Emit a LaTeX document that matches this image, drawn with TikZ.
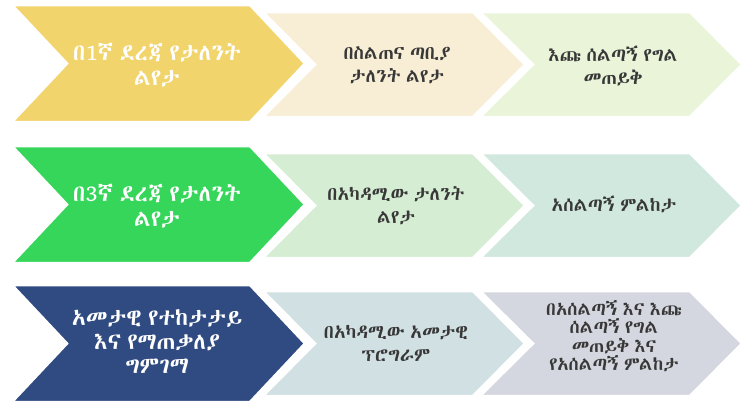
\documentclass[tikz,border=0pt]{standalone}
\usepackage{fontspec}
\IfFontExistsTF{Abyssinica SIL}{\newfontfamily\eth[WordSpace=0.65]{Abyssinica SIL}}{%
  \IfFontExistsTF{FreeSerif.otf}{\newfontfamily\eth[WordSpace=0.65]{FreeSerif.otf}}{%
    \IfFontExistsTF{FreeSerif}{\newfontfamily\eth[WordSpace=0.65]{FreeSerif}}{\newfontfamily\eth{DejaVu Sans}}}}
\definecolor{cyellow}{HTML}{F2D46C}
\definecolor{cbeige}{HTML}{F8EDD5}
\definecolor{clgreenA}{HTML}{E9F4D8}
\definecolor{cgreen}{HTML}{36D65B}
\definecolor{clgreenB}{HTML}{D5EDD3}
\definecolor{cmint}{HTML}{D1E8DF}
\definecolor{cnavy}{HTML}{2F4B82}
\definecolor{cblgray}{HTML}{D1E0E3}
\definecolor{cgray}{HTML}{D4D7DF}
\definecolor{textgray}{HTML}{383838}
\newcommand\chevshape[7]{%
  \draw[chev, fill=#1] (#2,#6) -- (#4,#6) -- (#5,{(#6+#7)/2}) -- (#4,#7) -- (#2,#7) -- (#3,{(#6+#7)/2}) -- cycle;}
\tikzset{
  chev/.style={draw=white, line width=2.5pt, line join=miter},
  bigtxt/.style={font=\eth\fontsize{23}{25.5}\selectfont, text=white, align=center, inner sep=0pt},
  smalltxt/.style={font=\eth\fontsize{19}{23}\selectfont, text=textgray, align=center, inner sep=0pt},
}
\begin{document}
\begin{tikzpicture}[x=1pt,y=-1pt]
\useasboundingbox[fill=white] (0,0) rectangle (744,407);
% row 1
\chevshape{clgreenA}{480}{533}{690}{742}{12}{117}
\chevshape{cbeige}{263}{315}{473}{525}{12}{117}
\chevshape{cyellow}{12}{67}{250}{305}{5}{122}
\node[bigtxt] (a1) at (157,65) {በ1ኛ ደረጃ የታለንት\\ልየታ};
\node[smalltxt] (b1) at (397,65) {በስልጠና ጣቢያ\\ታለንት ልየታ};
\node[smalltxt] (c1) at (613,66) {እጩ ሰልጣኝ የግል\\መጠይቅ};
% row 2
\chevshape{cmint}{480}{533}{690}{742}{153}{258}
\chevshape{clgreenB}{263}{315}{473}{525}{153}{258}
\chevshape{cgreen}{12}{67}{250}{305}{146}{263}
\node[bigtxt] (a2) at (157,206) {በ3ኛ ደረጃ የታለንት\\ልየታ};
\node[smalltxt] (b2) at (396,206) {በአካዳሚው ታለንት\\ልየታ};
\node[smalltxt] (c2) at (614,204) {አሰልጣኝ ምልከታ};
% row 3
\chevshape{cgray}{480}{533}{690}{742}{291}{396}
\chevshape{cblgray}{263}{315}{473}{525}{291}{396}
\chevshape{cnavy}{12}{67}{250}{305}{285}{402}
\node[bigtxt, font=\eth\fontsize{23}{24}\selectfont] (a3) at (157,342) {አመታዊ የተከታታይ\\እና የማጠቃለያ\\ግምገማ};
\node[smalltxt] (b3) at (396,343) {በአካዳሚው አመታዊ\\ፕሮግራም};
\node[smalltxt, font=\eth\fontsize{18.5}{18.5}\selectfont] (c3) at (614,336) {በአሰልጣኝ እና እጩ\\ሰልጣኝ የግል\\መጠይቅ እና\\የአሰልጣኝ ምልከታ};
\end{tikzpicture}
\end{document}
